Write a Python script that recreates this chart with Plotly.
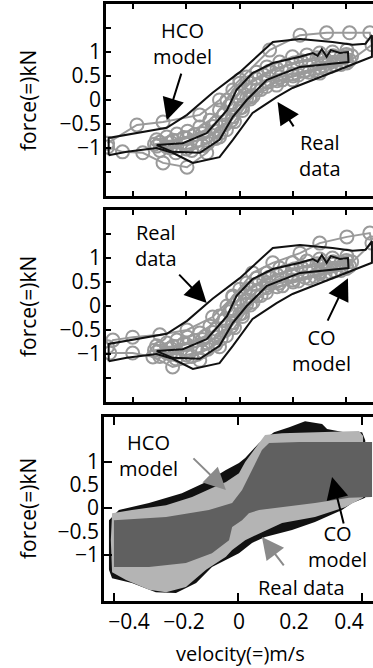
import plotly.graph_objects as go

# ---------------- data (panels 1 & 2 share velocity axis, panel 3 its own) -------------
# Real data (black) loops, velocity (m/s), force (kN)
real_outer_v = [-0.246, -0.246, -0.137, -0.099, -0.051, 0.0, 0.062, 0.113, 0.174, 0.212, 0.236, 0.248,
                0.248, 0.174, 0.099, 0.069, 0.024, -0.013, -0.038, -0.088, -0.126, -0.156, -0.212, -0.246]
real_outer_f = [-1.15, -0.79, -0.58, -0.31, 0.15, 0.58, 1.21, 1.27, 1.21, 1.15, 1.17, 1.35,
                0.90, 0.58, 0.25, 0.06, -0.27, -0.83, -1.19, -1.31, -1.10, -1.00, -1.08, -1.15]
real_inner_v = [-0.156, -0.107, -0.062, -0.024, -0.006, 0.024, 0.062, 0.113, 0.137, 0.146, 0.154, 0.163,
                0.171, 0.188, 0.203, 0.204, 0.113, 0.051, 0.013, -0.013, -0.038, -0.075, -0.126, -0.156]
real_inner_f = [-0.94, -0.90, -0.69, -0.21, 0.21, 0.56, 0.77, 0.90, 0.98, 0.92, 1.06, 0.90,
                1.04, 0.98, 1.00, 0.79, 0.69, 0.42, 0.00, -0.35, -0.83, -1.10, -1.08, -0.94]

# HCO model (grey circles, panel 1) outer loop
hco_v = [-0.248, -0.193, -0.144, -0.075, -0.038, 0.0, 0.056, 0.113, 0.163, 0.206, 0.244,
         0.248, 0.201, 0.150, 0.099, 0.069, 0.019, -0.013, -0.038, -0.062, -0.099, -0.144, -0.182, -0.220, -0.248]
hco_f = [-0.90, -0.52, -0.46, -0.31, 0.00, 0.42, 1.04, 1.35, 1.40, 1.40, 1.40,
         1.15, 0.77, 0.56, 0.42, 0.31, 0.06, -0.35, -0.77, -1.10, -1.40, -1.31, -1.10, -1.08, -0.98]

# CO model (grey circles, panel 2) outer loop
co_v = [-0.248, -0.238, -0.201, -0.150, -0.099, -0.051, -0.013, 0.024, 0.062, 0.113, 0.150, 0.201, 0.244,
        0.248, 0.201, 0.150, 0.099, 0.051, 0.013, -0.013, -0.038, -0.075, -0.126, -0.163, -0.201, -0.244]
co_f = [-0.85, -0.71, -0.65, -0.60, -0.50, -0.23, 0.19, 0.69, 0.90, 1.10, 1.31, 1.44, 1.52,
        1.31, 0.81, 0.71, 0.65, 0.48, 0.13, -0.35, -0.85, -1.13, -1.27, -1.06, -0.98, -0.98]

# dense inner model cycles (grey circles, both panels)
model_in1_v = [-0.156, -0.137, -0.118, -0.098, -0.075, -0.056, -0.038, -0.024, -0.013, 0.0, 0.013, 0.032,
               0.051, 0.075, 0.099, 0.126, 0.150, 0.174, 0.201,
               0.206, 0.178, 0.150, 0.122, 0.099, 0.075, 0.051, 0.032, 0.013, 0.0, -0.013, -0.028,
               -0.043, -0.062, -0.081, -0.099, -0.118, -0.137, -0.156]
model_in1_f = [-0.83, -0.77, -0.71, -0.65, -0.56, -0.42, -0.21, 0.00, 0.21, 0.35, 0.48, 0.58,
               0.69, 0.79, 0.90, 0.94, 0.98, 1.00, 1.04,
               0.83, 0.73, 0.67, 0.60, 0.54, 0.48, 0.38, 0.21, 0.04, -0.17, -0.35, -0.52,
               -0.65, -0.77, -0.85, -0.92, -0.96, -0.98, -0.96]
model_in2_v = [-0.16, -0.13, -0.10, -0.07, -0.05, -0.03, -0.015, 0.0, 0.02, 0.045, 0.07, 0.10, 0.13,
               0.16, 0.19, 0.21,
               0.20, 0.17, 0.14, 0.11, 0.08, 0.05, 0.025, 0.005, -0.015, -0.035, -0.06, -0.09, -0.12, -0.15]
model_in2_f = [-0.92, -0.88, -0.80, -0.70, -0.55, -0.30, -0.05, 0.15, 0.35, 0.52, 0.65, 0.75, 0.82,
               0.86, 0.90, 0.92,
               0.78, 0.70, 0.62, 0.52, 0.42, 0.28, 0.08, -0.15, -0.42, -0.68, -0.90, -1.05, -1.10, -1.05]
model_in3_v = [-0.15, -0.125, -0.105, -0.085, -0.065, -0.045, -0.03, -0.02, -0.005, 0.01, 0.03, 0.055,
               0.085, 0.115, 0.145, 0.175, 0.20,
               0.19, 0.16, 0.13, 0.10, 0.07, 0.04, 0.02, 0.005, -0.01, -0.025, -0.045, -0.07, -0.10, -0.13]
model_in3_f = [-0.88, -0.84, -0.78, -0.72, -0.63, -0.48, -0.30, -0.12, 0.08, 0.28, 0.45, 0.60,
               0.72, 0.82, 0.88, 0.92, 0.95,
               0.74, 0.66, 0.58, 0.50, 0.40, 0.22, 0.02, -0.22, -0.45, -0.62, -0.80, -0.95, -1.02, -1.00]

# panel 3 envelopes
env_real_v = [-0.416, -0.384, -0.287, -0.181, -0.103, -0.039, 0.003, 0.023, 0.068, 0.116, 0.165, 0.216,
              0.271, 0.287, 0.342, 0.400, 0.410, 0.410, 0.368, 0.335, 0.248, 0.174, 0.087, 0.045, 0.003,
              -0.019, -0.084, -0.135, -0.200, -0.265, -0.342, -0.406, -0.416]
env_real_f = [-0.26, -0.04, 0.11, 0.32, 0.56, 0.82, 0.97, 1.08, 1.40, 1.63, 1.74, 1.87,
              1.81, 1.70, 1.63, 1.63, 1.46, 0.22, 0.11, -0.04, -0.30, -0.47, -0.62, -0.75, -0.97,
              -1.05, -1.27, -1.61, -1.83, -1.81, -1.61, -1.51, -1.33]
env_hco_v = [-0.406, -0.342, -0.232, -0.148, -0.084, -0.039, 0.003, 0.023, 0.068, 0.087, 0.142, 0.248,
             0.390, 0.403, 0.403, 0.345, 0.248, 0.142, 0.068, 0.023, -0.019, -0.039, -0.103, -0.168,
             -0.232, -0.287, -0.361, -0.406, -0.410]
env_hco_f = [-0.11, -0.04, 0.06, 0.24, 0.43, 0.56, 0.75, 0.99, 1.40, 1.57, 1.61, 1.63,
             1.66, 1.55, 0.22, 0.02, -0.19, -0.32, -0.54, -0.69, -0.90, -1.05, -1.33, -1.70,
             -1.81, -1.76, -1.55, -1.38, -0.69]
env_co_v = [-0.400, -0.232, -0.094, -0.019, 0.013, 0.045, 0.077, 0.100, 0.197, 0.303, 0.432,
            0.432, 0.358, 0.248, 0.142, 0.068, 0.035, 0.013, -0.019, -0.029, -0.084, -0.168, -0.287, -0.400]
env_co_f = [-0.26, -0.19, -0.04, 0.11, 0.39, 0.82, 1.25, 1.40, 1.42, 1.42, 1.42,
            0.24, 0.22, 0.11, 0.02, -0.04, -0.11, -0.26, -0.41, -0.69, -0.97, -1.18, -1.27, -1.27]

force_ticks = [-1, -0.5, 0, 0.5, 1]
force_labels = ["\u22121", "\u22120.5", "0", "0.5", "1"]
vel_ticks = [-0.4, -0.2, 0, 0.2, 0.4]
vel_labels = ["\u22120.4", "\u22120.2", "0", "0.2", "0.4"]

FONT = "Open Sans"
GREY = "#9a9a9a"
W, H = 373, 668

fig = go.Figure()

def grey_circles(v, f, xa, ya):
    fig.add_trace(go.Scatter(x=v, y=f, xaxis=xa, yaxis=ya, mode="lines+markers",
                             line=dict(color=GREY, width=2),
                             marker=dict(symbol="circle-open", size=13, color=GREY,
                                         line=dict(width=2, color=GREY)),
                             showlegend=False, hoverinfo="skip"))

def black_line(v, f, xa, ya):
    fig.add_trace(go.Scatter(x=v, y=f, xaxis=xa, yaxis=ya, mode="lines",
                             line=dict(color="#111111", width=2),
                             showlegend=False, hoverinfo="skip"))

inner = [(model_in1_v, model_in1_f), (model_in2_v, model_in2_f), (model_in3_v, model_in3_f)]
# panel 1
for v, f in [(hco_v, hco_f)] + inner:
    grey_circles(v, f, "x", "y")
for v, f in [(real_outer_v, real_outer_f), (real_inner_v, real_inner_f)]:
    black_line(v, f, "x", "y")
# panel 2
for v, f in [(co_v, co_f)] + inner:
    grey_circles(v, f, "x2", "y2")
for v, f in [(real_outer_v, real_outer_f), (real_inner_v, real_inner_f)]:
    black_line(v, f, "x2", "y2")
# panel 3
for v, f, c in [(env_real_v, env_real_f, "#111111"), (env_hco_v, env_hco_f, "#b4b4b4"),
                (env_co_v, env_co_f, "#606060")]:
    fig.add_trace(go.Scatter(x=v, y=f, xaxis="x3", yaxis="y3", mode="lines", fill="toself",
                             fillcolor=c, line=dict(width=0, color=c),
                             showlegend=False, hoverinfo="skip"))
# empty trace so the overlay axes (velocity labels, long force ticks) get drawn
fig.add_trace(go.Scatter(x=[], y=[], xaxis="x4", yaxis="y4", mode="lines",
                         showlegend=False, hoverinfo="skip"))

def pdom_y(top, bottom):
    return [1 - bottom / H, 1 - top / H]

frame = dict(showline=True, linecolor="black", linewidth=2.5, showgrid=False, zeroline=False,
             ticks="inside", tickcolor="black", tickwidth=1.5)
ytickf = dict(family=FONT, size=21, color="black")
xtickf = dict(family=FONT, size=21, color="black")

for i, (top, bot) in enumerate([(4, 196), (210, 402)], start=1):
    sx = "" if i == 1 else str(i)
    fig.update_layout(**{
        f"xaxis{sx}": dict(frame, domain=[106 / W, 1], range=[-0.251, 0.25], anchor=f"y{sx}",
                           tickvals=[-0.2, -0.1, 0, 0.1, 0.2], ticklen=5, mirror="ticks",
                           showticklabels=False),
        f"yaxis{sx}": dict(frame, domain=pdom_y(top, bot), range=[-2, 2], anchor=f"x{sx}",
                           tickvals=[-1.5] + force_ticks + [1.5],
                           ticktext=[""] + force_labels + [""], ticklen=5, mirror=False,
                           tickfont=ytickf, ticklabelstandoff=-2),
    })

fig.update_layout(
    xaxis3=dict(frame, domain=[104 / W, 1], range=[-0.432, 0.435], anchor="y3",
                tickvals=[-0.4, 0, 0.4], ticklen=8, mirror="ticks", showticklabels=False),
    yaxis3=dict(frame, domain=pdom_y(417, 601), range=[-2, 1.96], anchor="x3",
                tickvals=force_ticks, ticktext=force_labels, ticklen=0, mirror=False,
                tickfont=ytickf, ticklabelstandoff=-2),
    xaxis4=dict(overlaying="x3", anchor="y4", side="bottom", range=[-0.491, 0.487],
                tickvals=vel_ticks, ticktext=vel_labels, ticks="", showline=False,
                showgrid=False, zeroline=False, tickfont=xtickf, ticklabelstandoff=6),
    yaxis4=dict(overlaying="y3", anchor="x4", side="left", range=[-2, 1.96],
                tickvals=[-1, 0, 1], showticklabels=False, ticks="inside", ticklen=8,
                tickwidth=1.5, tickcolor="black", showline=False,
                showgrid=False, zeroline=False),
)

ann_font = dict(family=FONT, size=20, color="black")
anns = []
# y-axis titles
for ya in ["y", "y2", "y3"]:
    anns.append(dict(text="force(=)kN", xref="paper", yref=ya, x=28 / W, y=0, showarrow=False,
                     textangle=-90, font=dict(ann_font, size=21), xanchor="center", yanchor="middle"))
anns.append(dict(text="velocity(=)m/s", xref="paper", yref="paper", x=240 / W, y=1 - 653 / H,
                 showarrow=False, font=ann_font, xanchor="center", yanchor="middle"))

def label(text, xa, ya, x, y):
    anns.append(dict(text=text, xref=xa, yref=ya, x=x, y=y, showarrow=False,
                     font=ann_font, xanchor="center", yanchor="middle"))

def arrow(xa, ya, x, y, ax, ay, color):
    anns.append(dict(text="", xref=xa, yref=ya, x=x, y=y, ax=ax, ay=ay, showarrow=True,
                     arrowhead=2, arrowsize=2.2, arrowwidth=2, arrowcolor=color))

label("HCO<br>model", "x", "y", -0.107, 1.17)
arrow("x", "y", -0.137, -0.42, 15, -48, "black")
label("Real<br>data", "x", "y", 0.150, -1.15)
arrow("x", "y", 0.071, -0.04, 17, 26, "black")

label("Real<br>data", "x2", "y2", -0.158, 1.27)
arrow("x2", "y2", -0.062, 0.06, -29, -30, "black")
label("CO<br>model", "x2", "y2", 0.154, -0.92)
arrow("x2", "y2", 0.203, 0.58, -21, 44, "black")

label("HCO<br>model", "x3", "y3", -0.287, 1.14)
arrow("x3", "y3", -0.039, 0.39, -34, -33, "#8a8a8a")
label("CO<br>model", "x3", "y3", 0.319, -0.82)
arrow("x3", "y3", 0.303, 0.67, 12, 48, "black")
label("Real data", "x3", "y3", 0.206, -1.72)
arrow("x3", "y3", 0.077, -0.62, 23, 30, "#8a8a8a")

fig.update_layout(annotations=anns, width=W, height=H,
                  margin=dict(l=0, r=0, t=0, b=0, pad=0),
                  paper_bgcolor="white", plot_bgcolor="white",
                  font=dict(family=FONT, color="black"))

fig.write_html("out.html")
